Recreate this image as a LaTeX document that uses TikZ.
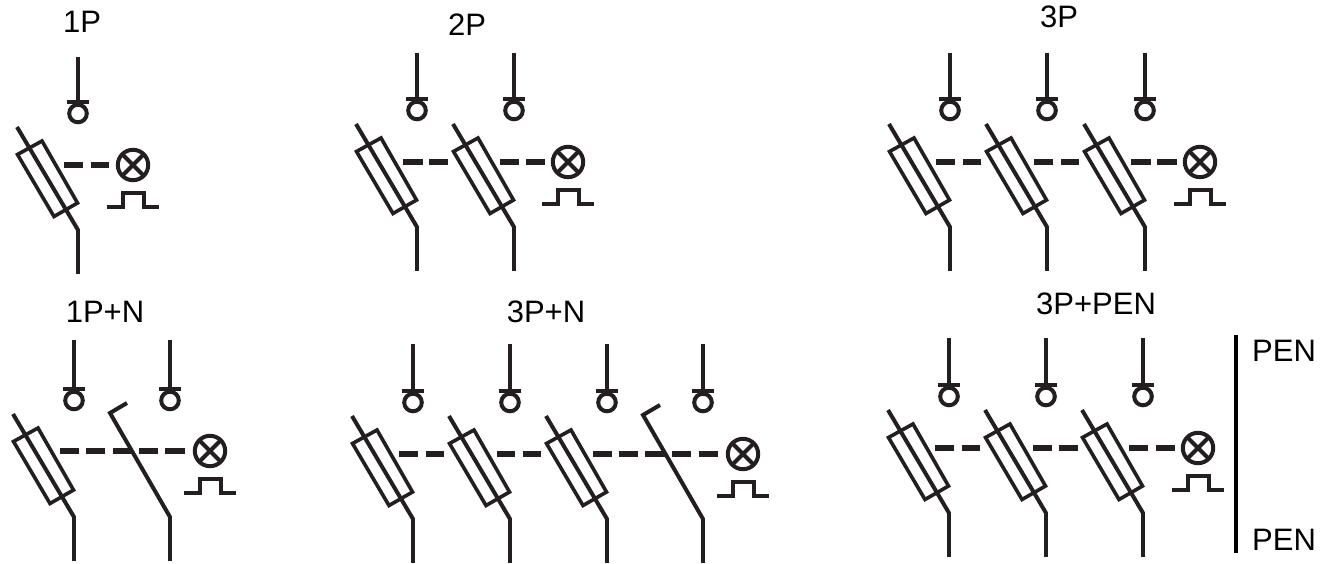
\documentclass[tikz,border=0pt]{standalone}
\usepackage{fontspec}
\setmainfont{Liberation Sans}
\definecolor{ink}{HTML}{231F20}
\tikzset{
  wire/.style={draw=ink,line width=4pt},
  tbar/.style={draw=ink,line width=4.5pt},
  linkdash/.style={draw=ink,line width=5.5pt},
  lbl/.style={inner sep=0pt,anchor=base,text=black,font=\fontsize{31}{33}\selectfont},
  lblw/.style={lbl,anchor=base west}
}
% incoming terminal + outgoing tail at pole x, vertical shift, top y
\newcommand\MCBterm[3]{%
  \begin{scope}[shift={(#1,#2)}]
    \draw[wire] (0,#3-#2) -- (0,101);
    \draw[tbar] (-11,102) -- (11,102);
    \draw[wire] (0,113.5) circle[radius=8.8];
    \draw[wire] (0,229) -- (0,274);
  \end{scope}}
\newcommand\MCBfuse[3]{%
  \MCBterm{#1}{#2}{#3}%
  \begin{scope}[shift={(#1,#2)}]
    \draw[wire,line join=miter] (-61,127) -- (0,230);
    \draw[wire,line width=3.6pt,line join=miter] (-60.5,154.5) -- (-36,141) -- (-0.5,203) -- (-24,216.5) -- cycle;
  \end{scope}}
\newcommand\MCBneutral[3]{%
  \MCBterm{#1}{#2}{#3}%
  \begin{scope}[shift={(#1,#2)}]
    \draw[wire,line join=miter] (0,230) -- (-60,126) -- (-43,116);
  \end{scope}}
\newcommand\MCBlamp[2]{%
  \begin{scope}[shift={(#1,#2)}]
    \draw[wire] (0,0) circle[radius=15.2];
    \draw[wire] (-10.8,-10.8) -- (10.8,10.8) (-10.8,10.8) -- (10.8,-10.8);
    \draw[wire,line join=miter] (-26,42) -- (-10,42) -- (-10,28) -- (11,28) -- (11,42) -- (26,42);
  \end{scope}}
\newcommand\MCBdash[2]{\foreach \a/\b in {#2}{\draw[linkdash] (\a,#1) -- (\b,#1);}}
\begin{document}
\begin{tikzpicture}[x=1pt,y=-1pt]
\useasboundingbox (0,0) rectangle (1335,564);
% labels
\node[lbl] (t1) at (82,33) {1P};
\node[lbl] (t2) at (467,36) {2P};
\node[lbl] (t3) at (1059,28) {3P};
\node[lbl] (t4) at (105,322) {1P+N};
\node[lbl] (t5) at (546,322) {3P+N};
\node[lbl] (t6) at (1096,314) {3P+PEN};
\node[lblw] (p1) at (1252,361) {PEN};
\node[lblw] (p2) at (1252,550) {PEN};
\draw[draw=black,line width=4pt] (1236,335) -- (1236,553);
% 1P
\MCBfuse{78}{0}{57}
\MCBdash{165}{64/83,91/109}
\MCBlamp{133}{165}
% 2P
\MCBfuse{417}{-3}{53}
\MCBfuse{514}{-3}{53}
\MCBdash{162}{403/423,429/448,500/519,526/545}
\MCBlamp{568}{162}
% 3P
\MCBfuse{950}{-3}{53}
\MCBfuse{1047}{-3}{53}
\MCBfuse{1145}{-3}{53}
\MCBdash{162}{936/955,963/981,1034/1053,1061/1079,1131/1151,1157/1177}
\MCBlamp{1200}{162}
% 1P+N
\MCBfuse{74}{287}{340}
\MCBneutral{170}{287}{340}
\MCBdash{451}{60/79,86/105,113/132,139/158,165/185}
\MCBlamp{210}{451}
% 3P+N
\MCBfuse{413}{289}{344}
\MCBfuse{510}{289}{344}
\MCBfuse{607}{289}{344}
\MCBneutral{703}{289}{344}
\MCBdash{454}{399/418,426/444,497/515,523/541,593/612,619/638,645/665,672/691,699/718}
\MCBlamp{743}{454}
% 3P+PEN
\MCBfuse{949}{283}{338}
\MCBfuse{1046}{283}{338}
\MCBfuse{1143}{283}{338}
\MCBdash{448}{935/954,962/980,1033/1052,1059/1078,1129/1148,1156/1175}
\MCBlamp{1198}{448}
\end{tikzpicture}
\end{document}
